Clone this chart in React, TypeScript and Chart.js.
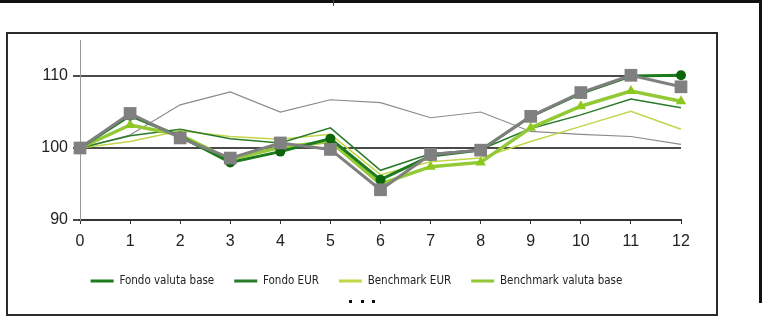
import React, { useEffect, useRef } from 'react';
import { Chart, registerables } from 'chart.js';

Chart.register(...registerables);

const categories = ['0', '1', '2', '3', '4', '5', '6', '7', '8', '9', '10', '11', '12'];
const yTicks = [90, 100, 110];

const grayMarked = [100, 104.8, 101.4, 98.6, 100.7, 99.8, 94.2, 99.1, 99.7, 104.4, 107.7, 110.1, 108.5];
const fondoValutaBase = [100, 104.5, 101.6, 98.0, 99.5, 101.3, 95.6, 98.9, 99.7, 104.4, 107.6, 110.0, 110.1];
const benchmarkValutaBase = [100, 103.2, 101.8, 98.4, 100.1, 100.9, 95.0, 97.4, 98.0, 102.8, 105.8, 107.9, 106.5];
const fondoEUR = [100, 101.7, 102.6, 101.3, 100.7, 102.8, 96.9, 99.2, 99.8, 102.7, 104.6, 106.8, 105.6];
const benchmarkEUR = [100, 100.9, 102.4, 101.6, 101.2, 101.9, 96.3, 98.1, 98.6, 100.9, 103.0, 105.1, 102.6];
const grayThin = [100, 101.8, 106.0, 107.8, 105.0, 106.7, 106.3, 104.2, 105.0, 102.3, 101.9, 101.6, 100.5];

const seriesNames = ['', 'Fondo valuta base', 'Benchmark valuta base', 'Fondo EUR', 'Benchmark EUR', ''];
const legendRank: Record<number, number> = { 1: 0, 3: 1, 4: 2, 2: 3 };

const LEGEND_FONT = '"DejaVu Sans Condensed", "Liberation Sans", sans-serif';
const TICK_FONT = '"Liberation Sans", Arial, sans-serif';

export default function App() {
  const ref = useRef<HTMLCanvasElement | null>(null);

  useEffect(() => {
    if (!ref.current) return;
    const chart = new Chart(ref.current, {
      type: 'line',
      data: {
        labels: categories,
        datasets: [
          {
            label: seriesNames[0],
            data: grayMarked,
            borderColor: '#7f7f7f',
            backgroundColor: '#7f7f7f',
            borderWidth: 3,
            pointStyle: 'rect',
            pointRadius: 9,
            pointBackgroundColor: '#808080',
            pointBorderColor: '#808080',
            pointBorderWidth: 0,
            clip: false as any,
          },
          {
            label: seriesNames[1],
            data: fondoValutaBase,
            borderColor: '#1d7a1d',
            backgroundColor: '#1d7a1d',
            borderWidth: 3,
            pointStyle: 'circle',
            pointRadius: 5,
            pointBackgroundColor: '#0b660b',
            pointBorderColor: '#0b660b',
            pointBorderWidth: 0,
            clip: false as any,
          },
          {
            label: seriesNames[2],
            data: benchmarkValutaBase,
            borderColor: '#92c935',
            backgroundColor: '#92c935',
            borderWidth: 3.5,
            pointStyle: 'triangle',
            pointRadius: 6,
            pointBackgroundColor: '#8cc81e',
            pointBorderColor: '#8cc81e',
            pointBorderWidth: 0,
            clip: false as any,
          },
          {
            label: seriesNames[3],
            data: fondoEUR,
            borderColor: '#2a7a2a',
            backgroundColor: '#2a7a2a',
            borderWidth: 1.5,
            pointRadius: 0,
            clip: false as any,
          },
          {
            label: seriesNames[4],
            data: benchmarkEUR,
            borderColor: '#c2d64a',
            backgroundColor: '#c2d64a',
            borderWidth: 1.5,
            pointRadius: 0,
            clip: false as any,
          },
          {
            label: seriesNames[5],
            data: grayThin,
            borderColor: '#8a8a8a',
            backgroundColor: '#8a8a8a',
            borderWidth: 1.2,
            pointRadius: 0,
            clip: false as any,
          },
        ],
      },
      options: {
        responsive: false,
        animation: false,
        devicePixelRatio: 1,
        layout: { padding: { left: 30, right: 82, top: 40, bottom: 36.25 } },
        elements: { line: { tension: 0, fill: false } },
        plugins: {
          tooltip: { enabled: false },
          legend: {
            position: 'bottom',
            align: 'center',
            labels: {
              boxWidth: 23,
              boxHeight: 3,
              padding: 20,
              color: '#222',
              font: { family: LEGEND_FONT, size: 11.5 },
              filter: (item: any) => legendRank[item.datasetIndex] !== undefined,
              sort: (a: any, b: any) => legendRank[a.datasetIndex] - legendRank[b.datasetIndex],
              generateLabels: (c: any) =>
                Chart.defaults.plugins.legend.labels.generateLabels(c).map((it: any) => ({
                  ...it,
                  fillStyle: it.strokeStyle,
                  lineWidth: 0,
                })),
            },
          },
        },
        scales: {
          x: {
            type: 'category',
            offset: false,
            afterFit: (s: any) => {
              s.height = 35.25;
            },
            grid: {
              display: true,
              drawOnChartArea: false,
              drawTicks: true,
              tickLength: 4,
              color: '#333',
              lineWidth: 1,
            },
            border: { display: true, color: '#333', width: 2 },
            ticks: {
              color: '#222',
              padding: 8,
              maxRotation: 0,
              autoSkip: false,
              font: { family: TICK_FONT, size: 16 },
            },
          },
          y: {
            type: 'linear',
            position: 'left',
            min: 90,
            max: 115,
            afterFit: (s: any) => {
              s.width = 50;
            },
            afterBuildTicks: (s: any) => {
              s.ticks = yTicks.map((v) => ({ value: v }));
            },
            grid: {
              display: true,
              drawOnChartArea: true,
              drawTicks: true,
              tickLength: 7,
              color: '#4a4a4a',
              lineWidth: 2,
            },
            border: { display: true, color: '#9a9a9a', width: 1 },
            ticks: {
              color: '#222',
              padding: 5,
              font: { family: TICK_FONT, size: 16 },
            },
          },
          yRight: {
            type: 'linear',
            position: 'right',
            display: true,
            afterFit: (s: any) => {
              s.width = 2;
            },
            grid: { display: false, drawTicks: false },
            border: { display: false },
            ticks: { display: false },
          },
        },
      },
    });
    return () => chart.destroy();
  }, []);

  return (
    <div style={{ position: 'fixed', left: 0, top: 0, width: 765, height: 333, background: '#fff', overflow: 'hidden' }}>
      <div style={{ position: 'absolute', left: 0, top: 0, width: 762, height: 3, background: '#111' }} />
      <div style={{ position: 'absolute', left: 759, top: 0, width: 3, height: 303, background: '#111' }} />
      <div style={{ position: 'absolute', left: 333, top: 0, width: 1, height: 6, background: '#444' }} />
      <div
        style={{
          position: 'absolute',
          left: 6,
          top: 32,
          width: 712,
          height: 284,
          border: '2px solid #2a2a2a',
          boxSizing: 'border-box',
        }}
      />
      {[349, 361, 372].map((x) => (
        <div key={x} style={{ position: 'absolute', left: x, top: 300, width: 3, height: 3, background: '#111' }} />
      ))}
      <canvas ref={ref} width={765} height={333} style={{ position: 'absolute', left: 0, top: 0 }} />
    </div>
  );
}
